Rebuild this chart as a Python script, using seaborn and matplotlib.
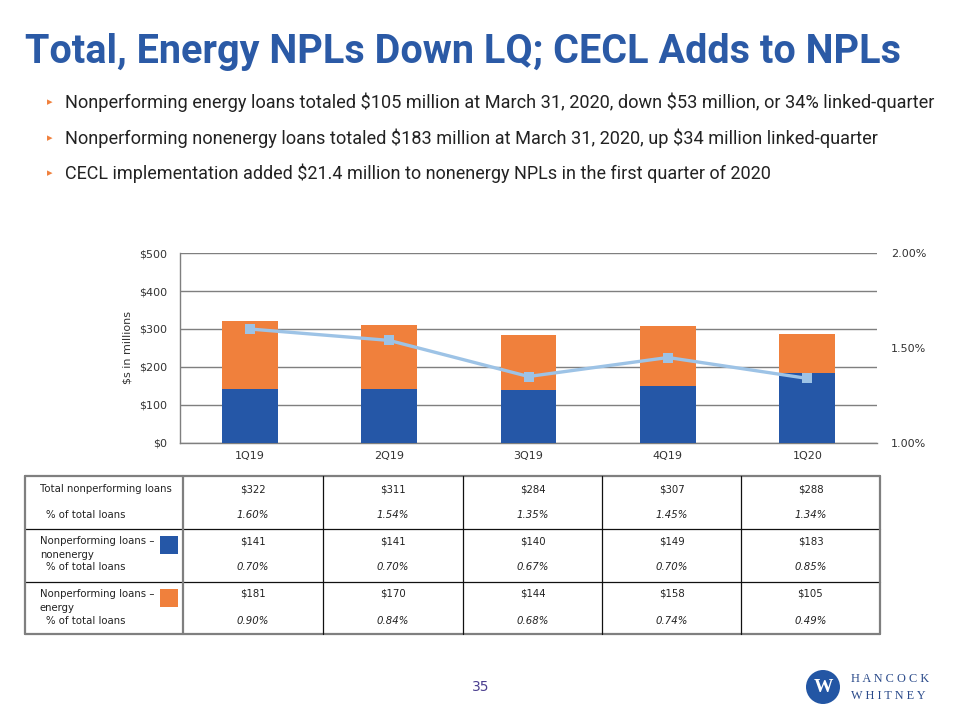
import matplotlib
matplotlib.use("Agg")
import matplotlib.pyplot as plt
import seaborn as sns
import pandas as pd
from matplotlib.lines import Line2D
from matplotlib.patches import Rectangle, Ellipse

# ---- data ----
quarters = ["1Q19", "2Q19", "3Q19", "4Q19", "1Q20"]
nonenergy = [141, 141, 140, 149, 183]
energy = [181, 170, 144, 158, 105]
total_npl = [322, 311, 284, 307, 288]
pct_total = [1.60, 1.54, 1.35, 1.45, 1.34]
pct_nonenergy = [0.70, 0.70, 0.67, 0.70, 0.85]
pct_energy = [0.90, 0.84, 0.68, 0.74, 0.49]
left_ticks = [0, 100, 200, 300, 400, 500]
right_ticks = [1.00, 1.50, 2.00]

title = "Total, Energy NPLs Down LQ; CECL Adds to NPLs"
bullets = [
    "Nonperforming energy loans totaled $105 million at March 31, 2020, down $53 million, or 34% linked-quarter",
    "Nonperforming nonenergy loans totaled $183 million at March 31, 2020, up $34 million linked-quarter",
    "CECL implementation added $21.4 million to nonenergy NPLs in the first quarter of 2020",
]

BLUE = "#2557a7"
ORANGE = "#f0803c"
LINE = "#9dc3e6"
TITLE_C = "#2b5aa6"

sns.set_theme(style="white")
plt.rcParams["font.family"] = ["DejaVu Sans"]

W, H = 960, 720
fig = plt.figure(figsize=(9.6, 7.2), dpi=100)
renderer = fig.canvas.get_renderer()

def fx(x):
    return x / W

def fy(y):
    return 1 - y / H

def fit_text(x, y, s, target_w, size, **kw):
    t = fig.text(fx(x), fy(y), s, fontsize=size, parse_math=False, **kw)
    w = t.get_window_extent(renderer).width
    if w > 0:
        t.set_fontsize(size * target_w / w)
    return t

# ---- title and bullets ----
fit_text(25, 52, title, 875, 28, family=["Roboto", "DejaVu Sans"],
         fontweight="bold", color=TITLE_C, va="center", ha="left")
bullet_y = [102, 138, 173]
bullet_w = [867, 811, 700]
for i, b in enumerate(bullets):
    fig.text(fx(47), fy(bullet_y[i]), "\u25B8", family=["DejaVu Sans"], fontsize=8,
             color=ORANGE, va="center", ha="left")
    fit_text(65, bullet_y[i], b, bullet_w[i], 12, family=["Roboto", "DejaVu Sans"],
             color="#222222", va="center", ha="left")

# ---- chart ----
ax = fig.add_axes([fx(180), fy(443), fx(877 - 180), (443 - 253) / H])
df = pd.DataFrame({"quarter": quarters, "nonenergy": nonenergy,
                   "energy": energy, "pct": pct_total})
df["stack"] = df["nonenergy"] + df["energy"]

sns.barplot(data=df, x="quarter", y="stack", color=ORANGE, width=0.4,
            saturation=1, ax=ax, zorder=2)
sns.barplot(data=df, x="quarter", y="nonenergy", color=BLUE, width=0.4,
            saturation=1, ax=ax, zorder=3)
for p in ax.patches:
    p.set_edgecolor("none")
ax.set_ylim(0, 500)
ax.set_xlim(-0.5, 4.5)
ax.set_yticks(left_ticks)
ax.set_yticklabels([f"${v}" for v in left_ticks], fontsize=8, color="#333333")
ax.tick_params(axis="x", labelsize=8, colors="#333333", length=0, pad=6)
ax.tick_params(axis="y", length=0, pad=9)
ax.yaxis.grid(True, color="#7f7f7f", linewidth=1)
ax.set_axisbelow(True)
ax.set_xlabel("")
ax.set_ylabel("$s in millions", fontsize=8, color="#333333", labelpad=5)
for s in ["top", "right"]:
    ax.spines[s].set_visible(False)
for s in ["left", "bottom"]:
    ax.spines[s].set_visible(True)
    ax.spines[s].set_color("#7f7f7f")
    ax.spines[s].set_linewidth(1)

ax2 = ax.twinx()
sns.lineplot(data=df, x="quarter", y="pct", sort=False, color=LINE,
             linewidth=2.4, marker="s", markersize=7, markeredgewidth=0,
             ax=ax2, zorder=5)
ax2.set_ylim(1.0, 2.0)
ax2.set_yticks(right_ticks)
ax2.set_yticklabels([f"{v:.2f}%" for v in right_ticks], fontsize=8, color="#333333")
ax2.tick_params(axis="y", length=0, pad=10)
ax2.set_ylabel("")
ax2.grid(False)
for s in ax2.spines.values():
    s.set_visible(False)

# ---- table ----
col_edges = [25, 183, 323, 463, 602, 741, 880]
row_edges = [476, 529, 582, 634]
frame_c = "#7f7f7f"

def hline(y, x0, x1, c, lw):
    fig.add_artist(Line2D([fx(x0), fx(x1)], [fy(y), fy(y)], color=c, lw=lw))

def vline(x, y0, y1, c, lw):
    fig.add_artist(Line2D([fx(x), fx(x)], [fy(y0), fy(y1)], color=c, lw=lw))

hline(row_edges[0], col_edges[0], col_edges[-1], frame_c, 1.6)
hline(row_edges[-1], col_edges[0], col_edges[-1], frame_c, 1.6)
hline(row_edges[1], col_edges[0], col_edges[-1], "#111111", 0.9)
hline(row_edges[2], col_edges[0], col_edges[-1], "#111111", 0.9)
vline(col_edges[0], row_edges[0], row_edges[-1], frame_c, 1.6)
vline(col_edges[-1], row_edges[0], row_edges[-1], frame_c, 1.6)
vline(col_edges[1], row_edges[0], row_edges[-1], frame_c, 1.6)
for xe in col_edges[2:-1]:
    vline(xe, row_edges[0], row_edges[-1], "#111111", 0.9)

tfs = 7.3
tc = "#222222"
rows = [
    (["Total nonperforming loans"], total_npl, pct_total, None, 489, 515),
    (["Nonperforming loans \u2013", "nonenergy"], nonenergy, pct_nonenergy, BLUE, 541, 567),
    (["Nonperforming loans \u2013", "energy"], energy, pct_energy, ORANGE, 594, 621),
]
for labels, vals, pcts, swatch, yv, yp in rows:
    for j, lab in enumerate(labels):
        fig.text(fx(40), fy(yv + j * 14), lab, fontsize=tfs, color=tc,
                 va="center", ha="left", parse_math=False)
    fig.text(fx(46), fy(yp), "% of total loans", fontsize=tfs, color=tc,
             va="center", ha="left", parse_math=False)
    if swatch is not None:
        fig.add_artist(Rectangle((fx(160), fy(yv + 13)), fx(18), 18 / H,
                                 facecolor=swatch, edgecolor="none",
                                 transform=fig.transFigure))
    for k in range(len(quarters)):
        cx = (col_edges[k + 1] + col_edges[k + 2]) / 2
        fig.text(fx(cx), fy(yv), f"${vals[k]}", fontsize=tfs, color=tc,
                 va="center", ha="center", parse_math=False)
        fig.text(fx(cx), fy(yp), f"{pcts[k]:.2f}%", fontsize=tfs, color=tc,
                 style="italic", va="center", ha="center", parse_math=False)

# ---- footer ----
fig.text(fx(481), fy(687), "35", fontsize=10, color="#4b3f8f",
         va="center", ha="center")
fig.add_artist(Ellipse((fx(823), fy(687)), 34 / W, 34 / H, facecolor="#2356a4",
                       edgecolor="none", transform=fig.transFigure))
fig.text(fx(823), fy(687), "W", fontsize=14, fontweight="bold", color="white",
         family=["Liberation Serif", "DejaVu Serif"], va="center", ha="center")
fig.text(fx(851), fy(679), "H A N C O C K", fontsize=8.8, color="#2a4a8a",
         family=["Liberation Serif", "DejaVu Serif"], va="center", ha="left")
fig.text(fx(851), fy(696), "W H I T N E Y", fontsize=8.8, color="#2a4a8a",
         family=["Liberation Serif", "DejaVu Serif"], va="center", ha="left")

fig.savefig("out.png", dpi=100)
